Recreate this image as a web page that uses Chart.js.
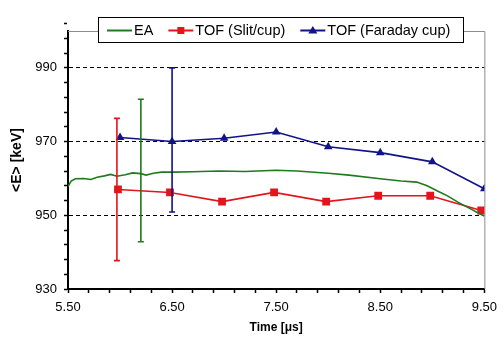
<!DOCTYPE html>
<html>
<head>
<meta charset="utf-8">
<script src="https://cdn.jsdelivr.net/npm/chart.js@4"></script>
<style>
  html, body { margin: 0; padding: 0; background: #fff; }
  #wrap { width: 504px; height: 343px; }
</style>
</head>
<body>
<div id="wrap"><canvas id="chart" width="504" height="343"></canvas></div>
<script>
// Data
const eaTime = [5.50, 5.53, 5.57, 5.65, 5.72, 5.78, 5.85, 5.91, 5.97, 6.05, 6.12, 6.20, 6.25, 6.32, 6.40, 6.50, 6.70, 6.95, 7.20, 7.50, 7.70, 8.00, 8.20, 8.50, 8.70, 8.85, 8.95, 9.05, 9.15, 9.25, 9.35, 9.45, 9.50];
const eaEnergy = [957.8, 959.3, 959.9, 960.0, 959.7, 960.3, 960.7, 961.1, 960.6, 961.0, 961.5, 961.3, 960.9, 961.4, 961.7, 961.7, 961.8, 962.0, 961.9, 962.2, 962.0, 961.4, 960.9, 959.9, 959.3, 959.0, 958.0, 956.6, 955.2, 953.5, 952.0, 950.5, 949.8];

const slitTime = [5.98, 6.48, 6.98, 7.48, 7.98, 8.48, 8.98, 9.47];
const slitEnergy = [957.0, 956.2, 953.7, 956.2, 953.7, 955.3, 955.3, 951.3];

const faradayTime = [6.0, 6.5, 7.0, 7.5, 8.0, 8.5, 9.0, 9.5];
const faradayEnergy = [971.1, 970.0, 970.9, 972.6, 968.6, 967.0, 964.5, 957.2];

// error bars: one per series (EA, slit, faraday)
const errSeries = [1, 0, 2];
const errTime = [5.97, 6.2, 6.5];
const errLow = [937.7, 942.8, 950.9];
const errHigh = [976.3, 981.5, 990.0];

const seriesNames = ['EA', 'TOF (Slit/cup)', 'TOF (Faraday cup)'];
const xTickLabels = [5.5, 6.5, 7.5, 8.5, 9.5];
const yTickLabels = [930, 950, 970, 990];
const xMinorStep = 0.2;
const yMinorStep = 4;

const green = '#1e7a1e';
const red = '#e3141b';
const blue = '#12128a';
const fontFamily = '"Liberation Sans", Arial, sans-serif';

function toPoints(xs, ys) {
  return xs.map((x, i) => ({ x: x, y: ys[i] }));
}

function isLabelled(v, list) {
  return list.some(t => Math.abs(t - v) < 1e-6);
}

// build ticks every minor step, labels only on the listed values
function buildTicks(axis, step) {
  const ticks = [];
  const n = Math.round((axis.max - axis.min) / step);
  for (let i = 0; i <= n; i++) {
    ticks.push({ value: +(axis.min + i * step).toFixed(4) });
  }
  axis.ticks = ticks;
}

// error bars with caps
const errorBarPlugin = {
  id: 'errorBars',
  afterDatasetsDraw(chart) {
    const ctx = chart.ctx;
    const xs = chart.scales.x, ys = chart.scales.y;
    ctx.save();
    errTime.forEach((t, i) => {
      const ds = chart.data.datasets[errSeries[i]];
      const px = xs.getPixelForValue(t);
      const top = ys.getPixelForValue(errHigh[i]);
      const bot = ys.getPixelForValue(errLow[i]);
      ctx.strokeStyle = ds.borderColor;
      ctx.lineWidth = 1.6;
      ctx.beginPath();
      ctx.moveTo(px, top); ctx.lineTo(px, bot);
      ctx.moveTo(px - 3, top); ctx.lineTo(px + 3, top);
      ctx.moveTo(px - 3, bot); ctx.lineTo(px + 3, bot);
      ctx.stroke();
    });
    ctx.restore();
  }
};

// gray top/right frame and boxed legend
const framePlugin = {
  id: 'frame',
  beforeDatasetsDraw(chart) {
    const { ctx, chartArea } = chart;
    ctx.save();
    ctx.strokeStyle = '#8c8c8c';
    ctx.lineWidth = 1;
    ctx.beginPath();
    ctx.moveTo(chartArea.left, chartArea.top + 0.5);
    ctx.lineTo(chartArea.right + 0.5, chartArea.top + 0.5);
    ctx.lineTo(chartArea.right + 0.5, chartArea.bottom);
    ctx.stroke();
    ctx.restore();
  },
  afterDraw(chart) {
    const ctx = chart.ctx;
    const box = { x: 98.5, y: 17.5, w: 365, h: 25 };
    ctx.save();
    ctx.fillStyle = '#fff';
    ctx.fillRect(box.x, box.y, box.w, box.h);
    ctx.strokeStyle = '#000';
    ctx.lineWidth = 1;
    ctx.strokeRect(box.x, box.y, box.w, box.h);
    ctx.font = '14.5px ' + fontFamily;
    ctx.textBaseline = 'middle';
    const cy = box.y + box.h / 2 + 0.5;
    let x = 107;
    chart.data.datasets.forEach(ds => {
      ctx.strokeStyle = ds.borderColor;
      ctx.lineWidth = 2;
      ctx.beginPath();
      ctx.moveTo(x, cy); ctx.lineTo(x + 25, cy);
      ctx.stroke();
      if (ds.pointRadius > 0) {
        ctx.fillStyle = ds.borderColor;
        if (ds.pointStyle === 'rect') {
          ctx.fillRect(x + 12.5 - 3.5, cy - 3.5, 7, 7);
        } else {
          ctx.beginPath();
          ctx.moveTo(x + 12.5, cy - 4.5);
          ctx.lineTo(x + 17, cy + 3);
          ctx.lineTo(x + 8, cy + 3);
          ctx.closePath();
          ctx.fill();
        }
      }
      ctx.fillStyle = '#000';
      ctx.fillText(ds.label, x + 27, cy);
      x += 27 + ctx.measureText(ds.label).width + 15;
    });
    ctx.restore();
  }
};

new Chart(document.getElementById('chart'), {
  type: 'line',
  data: {
    datasets: [
      {
        label: seriesNames[0],
        data: toPoints(eaTime, eaEnergy),
        borderColor: green,
        backgroundColor: green,
        borderWidth: 1.6,
        pointRadius: 0,
        tension: 0
      },
      {
        label: seriesNames[1],
        data: toPoints(slitTime, slitEnergy),
        borderColor: red,
        backgroundColor: red,
        borderWidth: 1.6,
        pointStyle: 'rect',
        pointRadius: 5.5,
        pointBorderWidth: 0,
        tension: 0
      },
      {
        label: seriesNames[2],
        data: toPoints(faradayTime, faradayEnergy),
        borderColor: blue,
        backgroundColor: blue,
        borderWidth: 1.6,
        pointStyle: 'triangle',
        pointRadius: 5,
        pointBorderWidth: 0,
        tension: 0
      }
    ]
  },
  options: {
    responsive: false,
    animation: false,
    layout: { padding: { left: 0, right: 16, top: 31, bottom: 0 } },
    plugins: {
      legend: { display: false },
      tooltip: { enabled: false }
    },
    scales: {
      x: {
        type: 'linear',
        min: 5.5,
        max: 9.5,
        afterBuildTicks: axis => buildTicks(axis, xMinorStep),
        afterFit: axis => { axis.height = 54; },
        ticks: {
          autoSkip: false,
          maxRotation: 0,
          padding: 7,
          color: '#000',
          font: { family: fontFamily, size: 13 },
          callback: v => isLabelled(v, xTickLabels) ? v.toFixed(2) : ''
        },
        grid: {
          drawOnChartArea: false,
          drawTicks: true,
          tickLength: 4,
          tickColor: '#000',
          tickWidth: 1.5
        },
        border: { color: '#000', width: 2 },
        title: {
          display: true,
          text: 'Time [μs]',
          color: '#000',
          font: { family: fontFamily, size: 12, weight: 'bold' },
          padding: { top: 0, bottom: 8 }
        }
      },
      y: {
        min: 930,
        max: 1000,
        afterBuildTicks: axis => buildTicks(axis, yMinorStep),
        afterFit: axis => { axis.width = 68; },
        ticks: {
          autoSkip: false,
          padding: 7,
          color: '#000',
          font: { family: fontFamily, size: 13 },
          callback: v => isLabelled(v, yTickLabels) ? String(v) : ''
        },
        grid: {
          drawOnChartArea: true,
          color: c => (c.tick && c.tick.value > 930 && isLabelled(c.tick.value, yTickLabels)) ? '#000' : 'rgba(0,0,0,0)',
          lineWidth: 1,
          drawTicks: true,
          tickLength: 4,
          tickColor: '#000',
          tickWidth: 1.5
        },
        border: { color: '#000', width: 2, dash: [4, 3] },
        title: {
          display: true,
          text: '<E> [keV]',
          color: '#000',
          font: { family: fontFamily, size: 14, weight: 'bold' },
          padding: { top: 9, bottom: 0 }
        }
      }
    }
  },
  plugins: [errorBarPlugin, framePlugin]
});
</script>
</body>
</html>
